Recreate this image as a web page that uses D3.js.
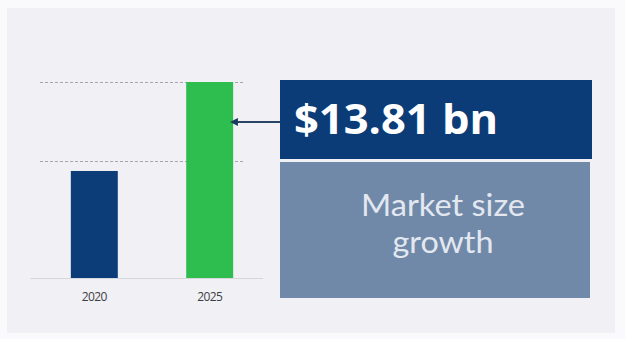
<!DOCTYPE html>
<html>
<head>
<meta charset="utf-8">
<script src="https://cdn.jsdelivr.net/npm/d3@7/dist/d3.min.js"></script>
<style>
  html, body { margin: 0; padding: 0; background: #fafafc; }
  svg { display: block; }
</style>
</head>
<body>
<script>
// Market size by year (USD bn)
const years = ["2020", "2025"];
const marketSize = [7.54, 13.81];
const barColors = ["#0c3d78", "#2ebd4f"];
const gridValues = [8.24, 13.81];
const headline = "$13.81 bn";
const captionLines = ["Market size", "growth"];
const captionWidths = [164, 101];

const W = 625, H = 339;
const svg = d3.select("body").append("svg")
  .attr("width", W).attr("height", H);

// panel background
svg.append("rect")
  .attr("x", 7).attr("y", 8).attr("width", 608).attr("height", 325)
  .attr("fill", "#f0f0f5");

const x = d3.scaleBand()
  .domain(years)
  .range([42, 262])
  .paddingInner(0.593)
  .paddingOuter(0.25);

const y = d3.scaleLinear()
  .domain([0, 13.81])
  .range([278, 82]);

// dashed gridlines
svg.append("g").selectAll("line")
  .data(gridValues)
  .join("line")
  .attr("x1", 40).attr("x2", 245)
  .attr("y1", d => Math.round(y(d)) + 0.5)
  .attr("y2", d => Math.round(y(d)) + 0.5)
  .attr("stroke", "#a3a5ad")
  .attr("stroke-width", 1)
  .attr("stroke-dasharray", "3,2");

// baseline
svg.append("line")
  .attr("x1", 30).attr("x2", 263)
  .attr("y1", y(0) + 0.5).attr("y2", y(0) + 0.5)
  .attr("stroke", "#d6d7dd").attr("stroke-width", 1);

// bars
svg.append("g").selectAll("rect")
  .data(years.map((yr, i) => ({ yr, v: marketSize[i], c: barColors[i] })))
  .join("rect")
  .attr("x", d => x(d.yr))
  .attr("width", x.bandwidth())
  .attr("y", d => y(d.v))
  .attr("height", d => y(0) - y(d.v))
  .attr("fill", d => d.c);

// year axis
const xAxis = svg.append("g")
  .attr("transform", `translate(0,${y(0)})`)
  .call(d3.axisBottom(x).tickSize(0).tickPadding(14));
xAxis.select(".domain").remove();
xAxis.selectAll("text")
  .attr("font-family", "'Open Sans', sans-serif")
  .attr("font-size", 12)
  .attr("fill", "#3e3e44")
  .attr("letter-spacing", "-0.6");

// callout boxes
const boxX = 280, boxW = 312;
svg.append("rect")
  .attr("x", boxX).attr("y", 80).attr("width", boxW).attr("height", 79)
  .attr("fill", "#0b3c77");
svg.append("rect")
  .attr("x", boxX).attr("y", 162).attr("width", boxW - 2).attr("height", 136)
  .attr("fill", "#7189a9");

svg.append("text")
  .attr("x", 294).attr("y", 134)
  .attr("font-family", "'Open Sans', sans-serif")
  .attr("font-weight", 700)
  .attr("font-size", 42)
  .attr("fill", "#ffffff")
  .attr("textLength", 204)
  .attr("lengthAdjust", "spacingAndGlyphs")
  .text(headline);

svg.append("g").selectAll("text")
  .data(captionLines)
  .join("text")
  .attr("x", 443)
  .attr("y", (d, i) => 216 + i * 37)
  .attr("text-anchor", "middle")
  .attr("font-family", "Lato, sans-serif")
  .attr("font-weight", 400)
  .attr("font-size", 30)
  .attr("fill", "#e3e8f0")
  .attr("textLength", (d, i) => captionWidths[i])
  .attr("lengthAdjust", "spacingAndGlyphs")
  .text(d => d);

// pointer from the headline box to the 2025 bar
const arrowY = 122;
const barRight = x(years[1]) + x.bandwidth();
svg.append("defs").append("marker")
  .attr("id", "head")
  .attr("viewBox", "0 0 10 10")
  .attr("refX", 1).attr("refY", 5)
  .attr("markerWidth", 4).attr("markerHeight", 4)
  .attr("orient", "auto-start-reverse")
  .append("path")
  .attr("d", "M0,0L10,5L0,10z")
  .attr("fill", "#1c3a5e");
svg.append("line")
  .attr("x1", boxX).attr("x2", barRight + 4)
  .attr("y1", arrowY).attr("y2", arrowY)
  .attr("stroke", "#2a4466").attr("stroke-width", 2)
  .attr("marker-end", "url(#head)");
</script>
</body>
</html>
